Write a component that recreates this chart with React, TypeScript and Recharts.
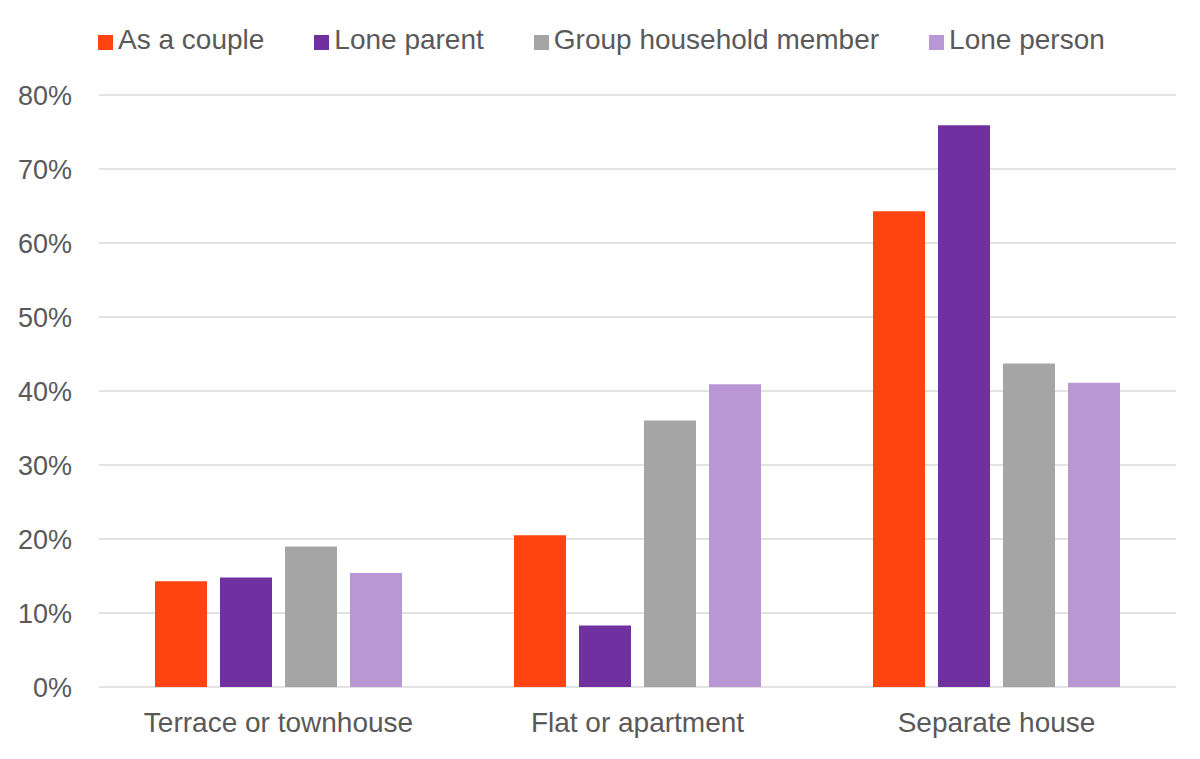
import React from 'react';
import { BarChart, Bar, XAxis, YAxis, CartesianGrid, Legend } from 'recharts';

const categories = ['Terrace or townhouse', 'Flat or apartment', 'Separate house'];
const asCouple = [14.3, 20.5, 64.3];
const loneParent = [14.8, 8.3, 75.9];
const groupHousehold = [19.0, 36.0, 43.7];
const lonePerson = [15.4, 40.9, 41.1];
const yTicks = [0, 10, 20, 30, 40, 50, 60, 70, 80];

const seriesNames = ['As a couple', 'Lone parent', 'Group household member', 'Lone person'];
const seriesKeys = ['couple', 'loneParent', 'group', 'lonePerson'];
const seriesColors = ['#FF4412', '#7030A0', '#A5A5A5', '#B996D4'];

const data = categories.map((c, i) => ({
  name: c,
  couple: asCouple[i],
  loneParent: loneParent[i],
  group: groupHousehold[i],
  lonePerson: lonePerson[i],
}));

const FONT = '"Liberation Sans", Arial, sans-serif';
const TEXT = '#595959';

const LegendContent = (props: any) => {
  const payload = [...(props.payload || [])].sort(
    (a: any, b: any) => seriesNames.indexOf(a.value) - seriesNames.indexOf(b.value)
  );
  return (
    <div style={{ display: 'flex', alignItems: 'center', height: 40, fontFamily: FONT, fontSize: 28, color: TEXT, gap: 50 }}>
      {payload.map((p: any) => (
        <div key={p.value} style={{ display: 'flex', alignItems: 'center' }}>
          <span style={{ display: 'inline-block', width: 15, height: 15, background: p.color, marginRight: 5, marginTop: 4 }} />
          <span style={{ lineHeight: '28px', whiteSpace: 'nowrap' }}>{p.value}</span>
        </div>
      ))}
    </div>
  );
};

export default function App() {
  return (
    <div style={{ position: 'absolute', left: 0, top: 0, width: 1200, height: 759, background: '#fff' }}>
      <BarChart
        width={1200}
        height={759}
        data={data}
        margin={{ top: 55, right: 24, bottom: 0, left: 0 }}
        barCategoryGap="15.6%"
        barGap={13}
      >
        <CartesianGrid vertical={false} stroke="#D9D9D9" strokeWidth={1.5} />
        <XAxis
          dataKey="name"
          axisLine={false}
          tickLine={false}
          tickSize={0}
          tickMargin={25}
          height={72}
          tick={{ fill: TEXT, fontSize: 28, fontFamily: FONT }}
        />
        <YAxis
          domain={[0, 80]}
          ticks={yTicks}
          axisLine={false}
          tickLine={false}
          tickSize={0}
          tickMargin={27}
          width={99}
          interval={0}
          tickFormatter={(v: number) => `${v}%`}
          tick={{ fill: TEXT, fontSize: 27, fontFamily: FONT }}
        />
        <Legend verticalAlign="top" content={<LegendContent />} wrapperStyle={{ top: 20, left: 98, width: 'auto' }} />
        {seriesKeys.map((k, i) => (
          <Bar key={k} dataKey={k} name={seriesNames[i]} fill={seriesColors[i]} isAnimationActive={false} />
        ))}
      </BarChart>
    </div>
  );
}
